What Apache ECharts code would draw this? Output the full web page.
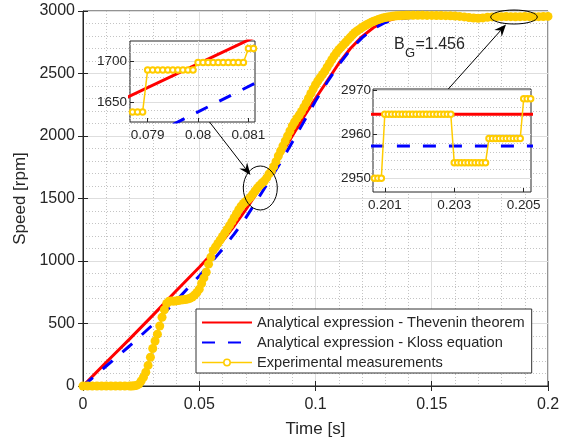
<!DOCTYPE html>
<html><head><meta charset="utf-8">
<script src="https://cdn.jsdelivr.net/npm/echarts@6/dist/echarts.min.js"></script>
<style>html,body{margin:0;padding:0;background:#fff}#c{width:569px;height:443px}</style>
</head><body><div id="c"></div>
<script>
// ---------------- DATA ----------------
const NAME_TH = 'Analytical expression - Thevenin theorem';
const NAME_KL = 'Analytical expression - Kloss equation';
const NAME_EX = 'Experimental measurements';

const modelTime = [0, 0.005, 0.01, 0.02, 0.03, 0.04, 0.05, 0.055, 0.06, 0.065, 0.07, 0.075, 0.08, 0.085, 0.09, 0.095, 0.1, 0.105, 0.11, 0.115, 0.12, 0.125, 0.13, 0.135, 0.14, 0.15, 0.16, 0.2];
const theveninSpeed = [0, 95, 190, 375, 565, 760, 950, 1050, 1160, 1280, 1410, 1550, 1692, 1845, 2000, 2155, 2300, 2440, 2580, 2700, 2795, 2868, 2917, 2943, 2955, 2962, 2964, 2964.5];
const klossSpeed = [0, 80, 160, 320, 490, 680, 880, 985, 1095, 1215, 1345, 1490, 1640, 1790, 1950, 2115, 2280, 2430, 2570, 2690, 2785, 2860, 2908, 2934, 2946, 2954, 2956.5, 2957.3];

const expTime = [
  0, 0.002, 0.004, 0.006, 0.008, 0.010, 0.012, 0.014, 0.016, 0.018, 0.020,
  0.021, 0.022, 0.023, 0.024, 0.025, 0.026, 0.027, 0.028, 0.029, 0.030,
  0.031, 0.032, 0.033, 0.034, 0.035, 0.036, 0.037, 0.038, 0.039, 0.040,
  0.041, 0.042, 0.043, 0.044, 0.045, 0.046, 0.047, 0.048, 0.049, 0.050,
  0.051, 0.052, 0.053, 0.054, 0.055, 0.056, 0.057, 0.058, 0.059, 0.060,
  0.061, 0.062, 0.063, 0.064, 0.065, 0.066, 0.067, 0.068, 0.069, 0.070,
  0.071, 0.072, 0.073, 0.074, 0.075, 0.076, 0.077, 0.078, 0.079, 0.080,
  0.081, 0.082, 0.083, 0.084, 0.085, 0.086, 0.087, 0.088, 0.089, 0.090,
  0.091, 0.092, 0.093, 0.094, 0.095, 0.096, 0.097, 0.098, 0.099, 0.100,
  0.101, 0.102, 0.103, 0.104, 0.105, 0.106, 0.107, 0.108, 0.109, 0.110,
  0.111, 0.112, 0.113, 0.114, 0.115, 0.116, 0.117, 0.118, 0.119, 0.120,
  0.121, 0.122, 0.123, 0.124, 0.125, 0.126, 0.127, 0.128, 0.129, 0.130,
  0.131, 0.132, 0.133, 0.134, 0.135, 0.136, 0.137, 0.138, 0.139, 0.140,
  0.142, 0.144, 0.146, 0.148, 0.150, 0.152, 0.154, 0.156, 0.158, 0.160,
  0.162, 0.164, 0.166, 0.168, 0.170, 0.172, 0.174, 0.176, 0.178, 0.180,
  0.182, 0.184, 0.186, 0.188, 0.190, 0.192, 0.194, 0.196, 0.198, 0.200
];
const expSpeed = [
  0, 0, 0, 0, 0, 0, 0, 0, 0, 0, 0,
  0, 2, 5, 15, 40, 70, 110, 165, 230, 300,
  360, 415, 480, 550, 610, 660, 678, 680, 679, 681,
  684, 688, 690, 692, 696, 702, 712, 728, 748, 775,
  820, 865, 910, 975, 1030, 1085, 1112, 1140, 1168, 1196,
  1225, 1253, 1283, 1313, 1346, 1378, 1410, 1438, 1460, 1476,
  1492, 1510, 1535, 1560, 1584, 1604, 1624, 1640, 1665, 1697,
  1717, 1755, 1795, 1840, 1880, 1920, 1960, 2000, 2040, 2080,
  2112, 2140, 2166, 2196, 2230, 2265, 2302, 2340, 2376, 2410,
  2440, 2466, 2492, 2518, 2550, 2580, 2610, 2640, 2666, 2690,
  2710, 2730, 2750, 2770, 2790, 2810, 2828, 2842, 2855, 2868,
  2880, 2890, 2900, 2910, 2918, 2925, 2932, 2938, 2944, 2948,
  2952, 2955, 2958, 2960, 2962, 2963, 2964, 2965, 2966, 2966,
  2966, 2966, 2966, 2965, 2965, 2964, 2964, 2963, 2962, 2960,
  2957, 2953, 2948, 2944, 2942, 2945, 2950, 2953, 2955, 2955,
  2956, 2955, 2954, 2955, 2956, 2955, 2954, 2955, 2956, 2957
];

// inset 1 (zoom around 0.08 s)
const ins1Time = [0.0787, 0.0788, 0.0789, 0.0790, 0.0791, 0.0792, 0.0793, 0.0794, 0.0795, 0.0796, 0.0797, 0.0798, 0.0799,
  0.0800, 0.0801, 0.0802, 0.0803, 0.0804, 0.0805, 0.0806, 0.0807, 0.0808, 0.0809, 0.0810, 0.0811];
const ins1Speed = [1638, 1638, 1638, 1689, 1689, 1689, 1689, 1689, 1689, 1689, 1689, 1689, 1689,
  1698, 1698, 1698, 1698, 1698, 1698, 1698, 1698, 1698, 1698, 1715, 1715];
const ins1ThTime = [0.0786, 0.0812];
const ins1ThSpeed = [1656, 1731];
const ins1KlTime = [0.0795, 0.0812];
const ins1KlSpeed = [1623, 1675];
const ins1XTicks = [0.079, 0.080, 0.081];
const ins1YTicks = [1650, 1700];
const ins1XMinor = [0.0788, 0.0792, 0.0794, 0.0796, 0.0798, 0.0802, 0.0804, 0.0806, 0.0808];
const ins1YMinor = [1630, 1640, 1660, 1670, 1680, 1690, 1710, 1720];

// inset 2 (steady state)
const ins2Time = [0.2007, 0.2008, 0.2009,
  0.2010, 0.2011, 0.2012, 0.2013, 0.2014, 0.2015, 0.2016, 0.2017, 0.2018, 0.2019,
  0.2020, 0.2021, 0.2022, 0.2023, 0.2024, 0.2025, 0.2026, 0.2027, 0.2028, 0.2029,
  0.2030, 0.2031, 0.2032, 0.2033, 0.2034, 0.2035, 0.2036, 0.2037, 0.2038, 0.2039,
  0.2040, 0.2041, 0.2042, 0.2043, 0.2044, 0.2045, 0.2046, 0.2047, 0.2048, 0.2049,
  0.2050, 0.2051, 0.2052];
const ins2Speed = [2950, 2950, 2950,
  2964.5, 2964.5, 2964.5, 2964.5, 2964.5, 2964.5, 2964.5, 2964.5, 2964.5, 2964.5,
  2964.5, 2964.5, 2964.5, 2964.5, 2964.5, 2964.5, 2964.5, 2964.5, 2964.5, 2964.5,
  2953.5, 2953.5, 2953.5, 2953.5, 2953.5, 2953.5, 2953.5, 2953.5, 2953.5, 2953.5,
  2959, 2959, 2959, 2959, 2959, 2959, 2959, 2959, 2959, 2959,
  2968, 2968, 2968];
const ins2ThTime = [0.2006, 0.2053];
const ins2ThSpeed = [2964.5, 2964.5];
const ins2KlTime = [0.2006, 0.2053];
const ins2KlSpeed = [2957.3, 2957.3];
const ins2XTicks = [0.201, 0.203, 0.205];
const ins2YTicks = [2950, 2960, 2970];
const ins2XMinor = [0.2015, 0.202, 0.2025, 0.2035, 0.204, 0.2045];
const ins2YMinor = [2948, 2952, 2954, 2956, 2958, 2962, 2964, 2966, 2968];

// ---------------- STYLE ----------------
const FONT = '"Liberation Sans", Arial, Helvetica, sans-serif';
const TXT = '#262626';
const RED = '#FF0000', BLUE = '#0000FF', YEL = '#FFCC00';
const MAJOR = '#dedede', MINOR = '#c4c4c4';
const zip = (a, b) => a.map((v, i) => [v, b[i]]);
const plain = v => String(+(+v).toFixed(6));

function insetX(grid, min, max, ticks) {
  return {
    type: 'value', gridIndex: grid, min: min, max: max, z: 11,
    axisLine: {show: false},
    axisTick: {show: true, inside: true, length: 4, customValues: ticks, lineStyle: {color: TXT}},
    axisLabel: {show: true, customValues: ticks, formatter: plain, color: TXT, fontFamily: FONT, fontSize: 13.5, margin: 6},
    splitLine: {show: false}
  };
}
function insetY(grid, min, max, ticks, margin) {
  return {
    type: 'value', gridIndex: grid, min: min, max: max, z: 11,
    axisLine: {show: false},
    axisTick: {show: true, inside: true, length: 4, customValues: ticks, lineStyle: {color: TXT}},
    axisLabel: {show: true, customValues: ticks, formatter: plain, color: TXT, fontFamily: FONT, fontSize: 13.5, margin: margin},
    splitLine: {show: false}
  };
}
function gridLines(xMaj, xMin, yMaj, yMin) {
  const d = [];
  xMin.forEach(v => d.push({xAxis: v, lineStyle: {color: MINOR, type: [1, 2], width: 1}}));
  yMin.forEach(v => d.push({yAxis: v, lineStyle: {color: MINOR, type: [1, 2], width: 1}}));
  xMaj.forEach(v => d.push({xAxis: v, lineStyle: {color: MAJOR, type: 'solid', width: 1}}));
  yMaj.forEach(v => d.push({yAxis: v, lineStyle: {color: MAJOR, type: 'solid', width: 1}}));
  return {silent: true, symbol: ['none', 'none'], label: {show: false}, animation: false, z: 11, data: d};
}

const chart = echarts.init(document.getElementById('c'), null, {renderer: 'canvas'});

const option = {
  animation: false,
  backgroundColor: '#fff',
  textStyle: {fontFamily: FONT},
  grid: [
    {left: 83, top: 11, width: 465, height: 375, show: true, backgroundColor: '#fff', borderColor: TXT, borderWidth: 1, z: 0},
    {left: 130, top: 41, width: 125, height: 81, show: true, backgroundColor: '#fff', borderColor: TXT, borderWidth: 1, z: 10},
    {left: 373, top: 89, width: 158, height: 103, show: true, backgroundColor: '#fff', borderColor: TXT, borderWidth: 1, z: 10}
  ],
  xAxis: [
    {
      type: 'value', gridIndex: 0, min: 0, max: 0.2, interval: 0.05,
      name: 'Time [s]', nameLocation: 'middle', nameGap: 35,
      nameTextStyle: {color: TXT, fontFamily: FONT, fontSize: 17},
      axisLine: {show: true, lineStyle: {color: TXT}},
      axisTick: {show: true, inside: true, length: 5, lineStyle: {color: TXT}},
      axisLabel: {color: TXT, fontFamily: FONT, fontSize: 16, margin: 11, formatter: plain},
      splitLine: {show: true, lineStyle: {color: MAJOR, width: 1}},
      minorTick: {show: false, splitNumber: 5},
      minorSplitLine: {show: true, lineStyle: {color: MINOR, type: [1, 2], width: 1}}
    },
    {
      type: 'value', gridIndex: 0, position: 'top', min: 0, max: 0.2, interval: 0.05,
      axisLine: {show: false}, axisLabel: {show: false}, splitLine: {show: false},
      axisTick: {show: true, inside: true, length: 5, lineStyle: {color: TXT}}
    },
    insetX(1, 0.07865, 0.08113, ins1XTicks),
    insetX(2, 0.20066, 0.20521, ins2XTicks)
  ],
  yAxis: [
    {
      type: 'value', gridIndex: 0, min: 0, max: 3000, interval: 500,
      name: 'Speed [rpm]', nameLocation: 'middle', nameGap: 44,
      nameTextStyle: {color: TXT, fontFamily: FONT, fontSize: 17},
      axisLine: {show: true, lineStyle: {color: TXT}},
      axisTick: {show: true, inside: true, length: 5, lineStyle: {color: TXT}},
      axisLabel: {color: TXT, fontFamily: FONT, fontSize: 16, margin: 8, formatter: plain},
      splitLine: {show: true, lineStyle: {color: MAJOR, width: 1}},
      minorTick: {show: false, splitNumber: 5},
      minorSplitLine: {show: true, lineStyle: {color: MINOR, type: [1, 2], width: 1}}
    },
    {
      type: 'value', gridIndex: 0, position: 'right', min: 0, max: 3000, interval: 500,
      axisLine: {show: false}, axisLabel: {show: false}, splitLine: {show: false},
      axisTick: {show: true, inside: true, length: 5, lineStyle: {color: TXT}}
    },
    insetY(1, 1626, 1724, ins1YTicks, 3),
    insetY(2, 2946.9, 2970.2, ins2YTicks, 2)
  ],
  legend: {
    left: 196, top: 309, orient: 'vertical', itemWidth: 50, itemHeight: 8, itemGap: 5,
    padding: [6, 7, 3, 5], borderColor: '#333', borderWidth: 1, backgroundColor: '#fff',
    textStyle: {fontFamily: FONT, fontSize: 14.6, color: TXT},
    selectedMode: false, z: 20,
    data: [
      {name: NAME_TH, itemStyle: {opacity: 0}},
      {name: NAME_KL, itemStyle: {opacity: 0}},
      {name: NAME_EX, itemStyle: {color: '#fff', borderColor: YEL, borderWidth: 1.5}, lineStyle: {width: 1.5}}
    ]
  },
  series: [
    {
      name: NAME_TH, type: 'line', xAxisIndex: 0, yAxisIndex: 0, data: zip(modelTime, theveninSpeed),
      symbol: 'none', showSymbol: false,
      lineStyle: {color: RED, width: 3}, itemStyle: {color: RED}, z: 2
    },
    {
      name: NAME_KL, type: 'line', xAxisIndex: 0, yAxisIndex: 0, data: zip(modelTime, klossSpeed),
      symbol: 'none', showSymbol: false,
      lineStyle: {color: BLUE, width: 3, type: [13, 13]}, itemStyle: {color: BLUE}, z: 2
    },
    {
      name: NAME_EX, type: 'line', xAxisIndex: 0, yAxisIndex: 0, data: zip(expTime, expSpeed),
      symbol: 'circle', symbolSize: 9, showSymbol: true, showAllSymbol: true, clip: false,
      lineStyle: {color: YEL, width: 2}, itemStyle: {color: YEL}, z: 2
    },
    // inset 1
    {
      name: 'ins1-th', type: 'line', xAxisIndex: 2, yAxisIndex: 2, data: zip(ins1ThTime, ins1ThSpeed),
      symbol: 'none', lineStyle: {color: RED, width: 3}, z: 12, markLine: gridLines(ins1XTicks, ins1XMinor, ins1YTicks, ins1YMinor)
    },
    {
      name: 'ins1-kl', type: 'line', xAxisIndex: 2, yAxisIndex: 2, data: zip(ins1KlTime, ins1KlSpeed),
      symbol: 'none', lineStyle: {color: BLUE, width: 3, type: [13, 13]}, z: 12
    },
    {
      name: 'ins1-ex', type: 'line', xAxisIndex: 2, yAxisIndex: 2, data: zip(ins1Time, ins1Speed),
      symbol: 'emptyCircle', symbolSize: 5.5, showAllSymbol: true,
      lineStyle: {color: YEL, width: 1.5}, itemStyle: {color: YEL, borderColor: YEL, borderWidth: 1.5}, z: 12
    },
    // inset 2
    {
      name: 'ins2-th', type: 'line', xAxisIndex: 3, yAxisIndex: 3, data: zip(ins2ThTime, ins2ThSpeed),
      symbol: 'none', lineStyle: {color: RED, width: 3}, z: 12, markLine: gridLines(ins2XTicks, ins2XMinor, ins2YTicks, ins2YMinor)
    },
    {
      name: 'ins2-kl', type: 'line', xAxisIndex: 3, yAxisIndex: 3, data: zip(ins2KlTime, ins2KlSpeed),
      symbol: 'none', lineStyle: {color: BLUE, width: 3, type: [13, 13]}, z: 12
    },
    {
      name: 'ins2-ex', type: 'line', xAxisIndex: 3, yAxisIndex: 3, data: zip(ins2Time, ins2Speed),
      symbol: 'emptyCircle', symbolSize: 5.5, showAllSymbol: true,
      lineStyle: {color: YEL, width: 1.5}, itemStyle: {color: YEL, borderColor: YEL, borderWidth: 1.5}, z: 12
    }
  ]
};
chart.setOption(option);

// ---------------- ANNOTATIONS (anchored in main-axes data coordinates) ----------------
const px = (t, v) => chart.convertToPixel({xAxisIndex: 0, yAxisIndex: 0}, [t, v]);
function ellipseFrom(t0, t1, v0, v1) {
  const a = px(t0, v0), b = px(t1, v1);
  return {type: 'ellipse', z: 100, silent: true,
    shape: {cx: (a[0] + b[0]) / 2, cy: (a[1] + b[1]) / 2, rx: Math.abs(b[0] - a[0]) / 2, ry: Math.abs(b[1] - a[1]) / 2},
    style: {fill: null, stroke: '#000', lineWidth: 1}};
}
function arrowFrom(ts, vs, tt, vt) {
  const p0 = px(ts, vs), p1 = px(tt, vt);
  const dx = p1[0] - p0[0], dy = p1[1] - p0[1], L = Math.hypot(dx, dy);
  const ux = dx / L, uy = dy / L, nx = -uy, ny = ux;
  const hl = 12, hw = 5, notch = 4;
  const bx = p1[0] - ux * hl, by = p1[1] - uy * hl;
  const mx = p1[0] - ux * (hl - notch), my = p1[1] - uy * (hl - notch);
  return [
    {type: 'line', z: 100, silent: true, shape: {x1: p0[0], y1: p0[1], x2: mx, y2: my}, style: {stroke: '#000', lineWidth: 1}},
    {type: 'polygon', z: 100, silent: true, shape: {points: [[p1[0], p1[1]], [bx + nx * hw, by + ny * hw], [mx, my], [bx - nx * hw, by - ny * hw]]}, style: {fill: '#000'}}
  ];
}
const bg = px(0.13376, 2688);
const graphics = [
  ellipseFrom(0.06895, 0.08357, 1760, 1408),
  ellipseFrom(0.17535, 0.19540, 3008, 2896),
  ...arrowFrom(0.05441, 2112, 0.07204, 1688),
  ...arrowFrom(0.15712, 2376, 0.181935, 2892),
  {type: 'text', z: 100, silent: true, x: bg[0], y: bg[1] - 5, style: {text: 'B', font: '16px ' + FONT, fill: TXT, verticalAlign: 'middle'}},
  {type: 'text', z: 100, silent: true, x: bg[0] + 11, y: bg[1] + 3.5, style: {text: 'G', font: '13px ' + FONT, fill: TXT, verticalAlign: 'middle'}},
  {type: 'text', z: 100, silent: true, x: bg[0] + 21.5, y: bg[1] - 5, style: {text: '=1.456', font: '16px ' + FONT, fill: TXT, verticalAlign: 'middle'}}
];
chart.setOption({graphic: graphics});
</script>
</body></html>
